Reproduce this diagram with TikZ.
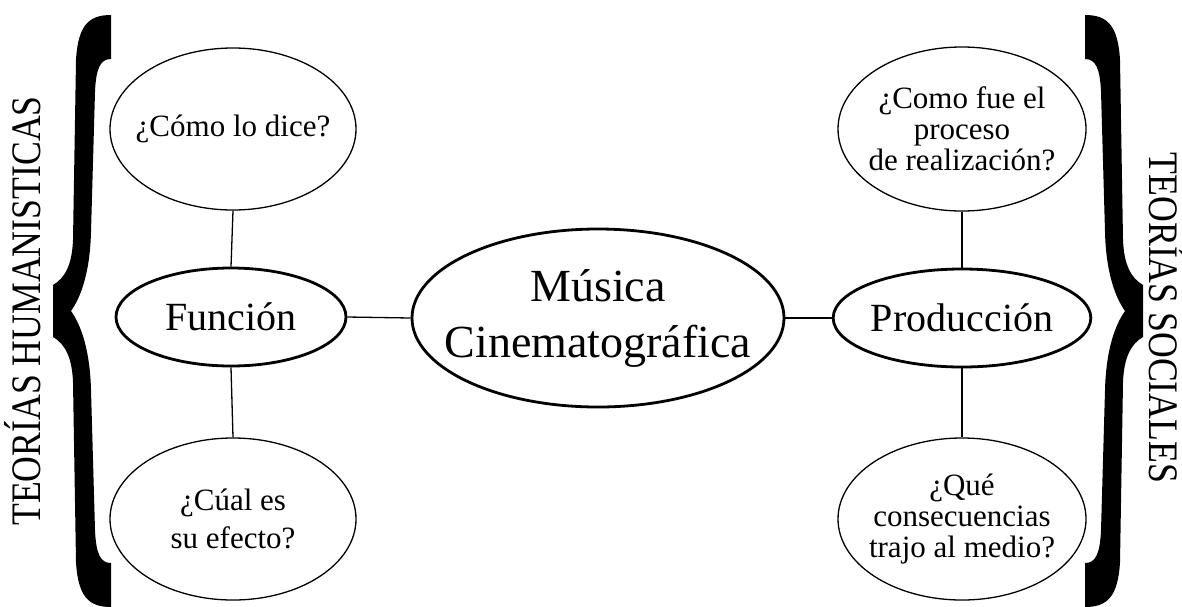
\documentclass[tikz,border=0pt]{standalone}
\usepackage{fontspec}
\setmainfont{Liberation Serif}
\usetikzlibrary{shapes.geometric}
\tikzset{
  thinell/.style={ellipse, draw, line width=1.3pt, inner sep=-16pt, align=center,
    font=\fontsize{31}{31}\selectfont},
  thickell/.style={ellipse, draw, line width=2.8pt, inner sep=0pt, align=center,
    font=\fontsize{40}{42}\selectfont},
  link/.style={line width=1.3pt},
  sidelabel/.style={font=\fontsize{42}{42}\selectfont, anchor=base, inner sep=0pt},
  bigbrace/.pic={
    \fill (111,15) .. controls (89,15) and (78,25) .. (76,60)
      -- (73,240) .. controls (72,265) and (65,278) .. (53,285)
      -- (53,337) .. controls (65,344) and (72,357) .. (73,382)
      -- (76,562) .. controls (78,597) and (89,607) .. (111,607)
      -- (111,563) .. controls (101,563) and (96,555) .. (95,530)
      -- (91,390) .. controls (90,350) and (81,325) .. (71,311)
      .. controls (81,297) and (90,272) .. (91,232)
      -- (95,92) .. controls (96,67) and (101,59) .. (111,59) -- cycle;
  }
}
\begin{document}
\begin{tikzpicture}[x=1pt, y=-1pt]
\useasboundingbox (0,0) rectangle (1182,606);
% braces
\pic at (0,0) {bigbrace};
\pic[xscale=-1] at (1196,0) {bigbrace};
% side labels
\node[sidelabel, rotate=90, xscale=0.85] (hum) at (40,311) {TEORÍAS HUMANISTICAS};
\node[sidelabel, rotate=-90, xscale=0.85] (soc) at (1149,318) {TEORÍAS SOCIALES};
% ellipses
\node[thinell, minimum width=246pt, minimum height=162pt] (tl) at (233,129) {¿Cómo lo dice?};
\node[thickell, minimum width=230pt, minimum height=98pt] (fun) at (231,317) {Función};
\node[thinell, font=\fontsize{31}{38}\selectfont, minimum width=246pt, minimum height=162pt] (bl) at (233,519) {¿Cúal es\\su efecto?};
\node[thickell, inner sep=-24pt, font=\fontsize{46}{56}\selectfont,
      minimum width=372pt, minimum height=178pt] (mus) at (598,318) {Música\\Cinematográfica};
\node[thickell, minimum width=222pt, minimum height=98pt] (pro) at (962,318) {Producción};
\node[thinell, minimum width=248pt, minimum height=164pt] (tr) at (962,129) {¿Como fue el\\proceso\\de realización?};
\node[thinell, minimum width=248pt, minimum height=162pt] (br) at (962,519) {¿Qué\\consecuencias\\trajo al medio?};
% connectors
\draw[link] (tl.south) -- (fun.north);
\draw[link] (fun.south) -- (bl.north);
\draw[link] (fun.east) -- (mus.west);
\draw[link] (mus.east) -- (pro.west);
\draw[link] (tr.south) -- (pro.north);
\draw[link] (pro.south) -- (br.north);
\end{tikzpicture}
\end{document}
